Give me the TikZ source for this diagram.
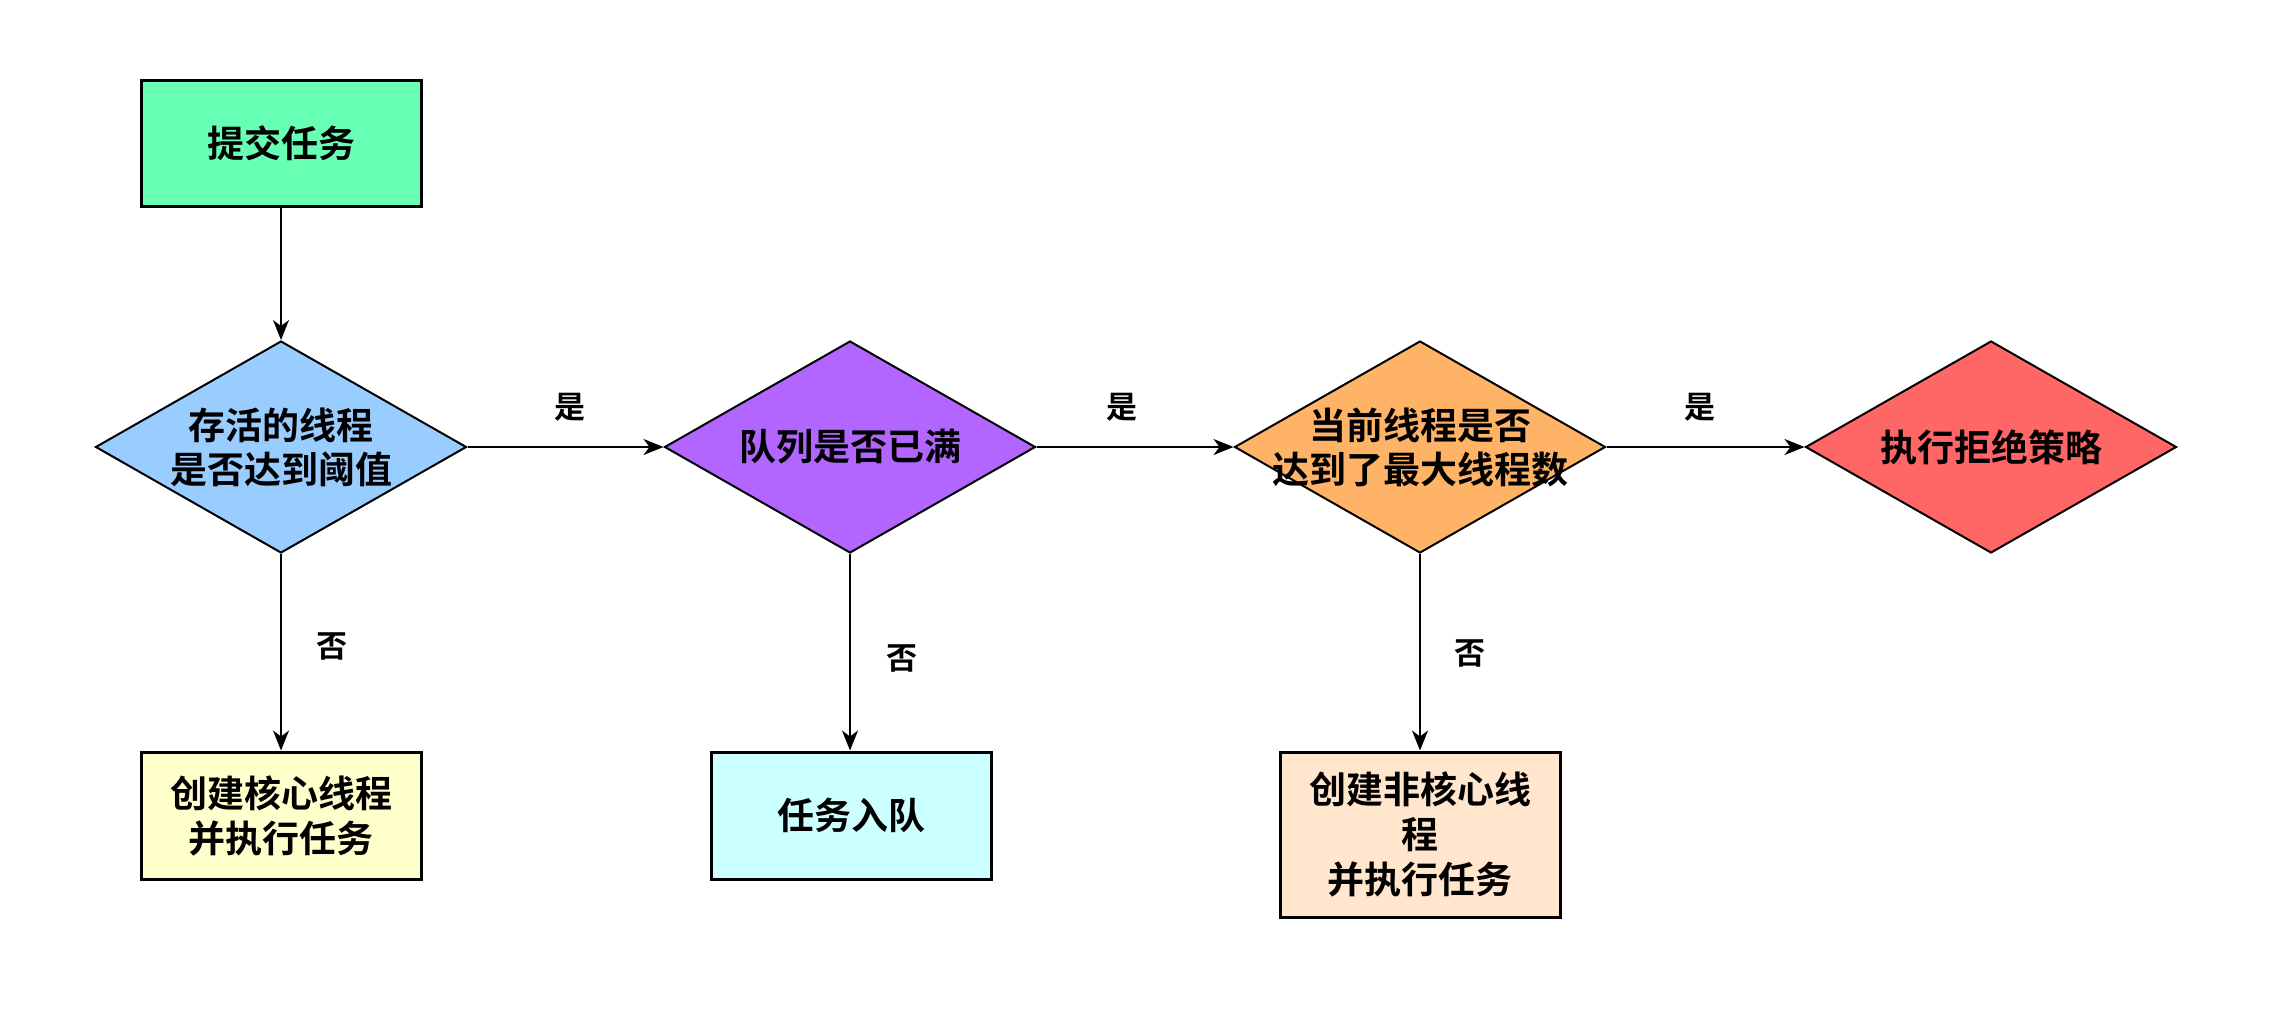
\documentclass[tikz,border=0pt]{standalone}
\usepackage{fontspec}
\newfontfamily\cjk{Noto Sans CJK SC Bold}
\usetikzlibrary{shapes.geometric,arrows.meta}
\definecolor{cgreen}{HTML}{66FFB3}
\definecolor{cblue}{HTML}{99CCFF}
\definecolor{cpurple}{HTML}{B266FF}
\definecolor{corange}{HTML}{FFB366}
\definecolor{cred}{HTML}{FF6666}
\definecolor{cyellow}{HTML}{FFFFCC}
\definecolor{ccyan}{HTML}{CCFFFF}
\definecolor{cpeach}{HTML}{FFE6CC}
\tikzset{
  box/.style={draw=black, line width=3pt, minimum width=280pt, inner sep=0pt, align=center, font=\cjk\fontsize{37}{45}\selectfont},
  dia/.style={draw=black, line width=2pt, shape=diamond, minimum width=371pt, minimum height=212pt, inner sep=0pt},
  diatext/.style={align=center, font=\cjk\fontsize{37}{44}\selectfont},
  lbl/.style={font=\cjk\fontsize{31}{34}\selectfont},
  arr/.style={draw=black, line width=2pt, -{Stealth[length=20pt,width=16pt,inset=6pt]}}
}
\begin{document}
\begin{tikzpicture}[x=1pt,y=-1pt]
\useasboundingbox (0,0) rectangle (2282,1009);
\fill[white] (0,0) rectangle (2282,1009);
\node[box, fill=cgreen, minimum height=126pt] (start) at (281,143.5) {提交任务};
\node[dia, fill=cblue] (d1) at (281,447) {};
\node[diatext] (t1) at (d1.center) {存活的线程\\是否达到阈值};
\node[dia, fill=cpurple] (d2) at (850,447) {};
\node[diatext] (t2) at (d2.center) {队列是否已满};
\node[dia, fill=corange] (d3) at (1420,447) {};
\node[diatext] (t3) at (d3.center) {当前线程是否\\达到了最大线程数};
\node[dia, fill=cred] (d4) at (1991,447) {};
\node[diatext] (t4) at (d4.center) {执行拒绝策略};
\node[box, fill=cyellow, minimum height=127pt] (b1) at (281,815.5) {创建核心线程\\并执行任务};
\node[box, fill=ccyan, minimum height=127pt] (b2) at (851,815.5) {任务入队};
\node[box, fill=cpeach, minimum height=165pt] (b3) at (1420,834.5) {创建非核心线\\程\\并执行任务};
\draw[arr] (start.south) -- (d1.north);
\draw[arr] (d1.east) -- (d2.west);
\draw[arr] (d2.east) -- (d3.west);
\draw[arr] (d3.east) -- (d4.west);
\draw[arr] (d1.south) -- (b1.north);
\draw[arr] (d2.south) -- (d2.south |- b2.north);
\draw[arr] (d3.south) -- (b3.north);
\node[lbl] (y1) at (570,407) {是};
\node[lbl] (y2) at (1122,407) {是};
\node[lbl] (y3) at (1700,407) {是};
\node[lbl] (n1) at (332,646) {否};
\node[lbl] (n2) at (902,658) {否};
\node[lbl] (n3) at (1470,653) {否};
\end{tikzpicture}
\end{document}
